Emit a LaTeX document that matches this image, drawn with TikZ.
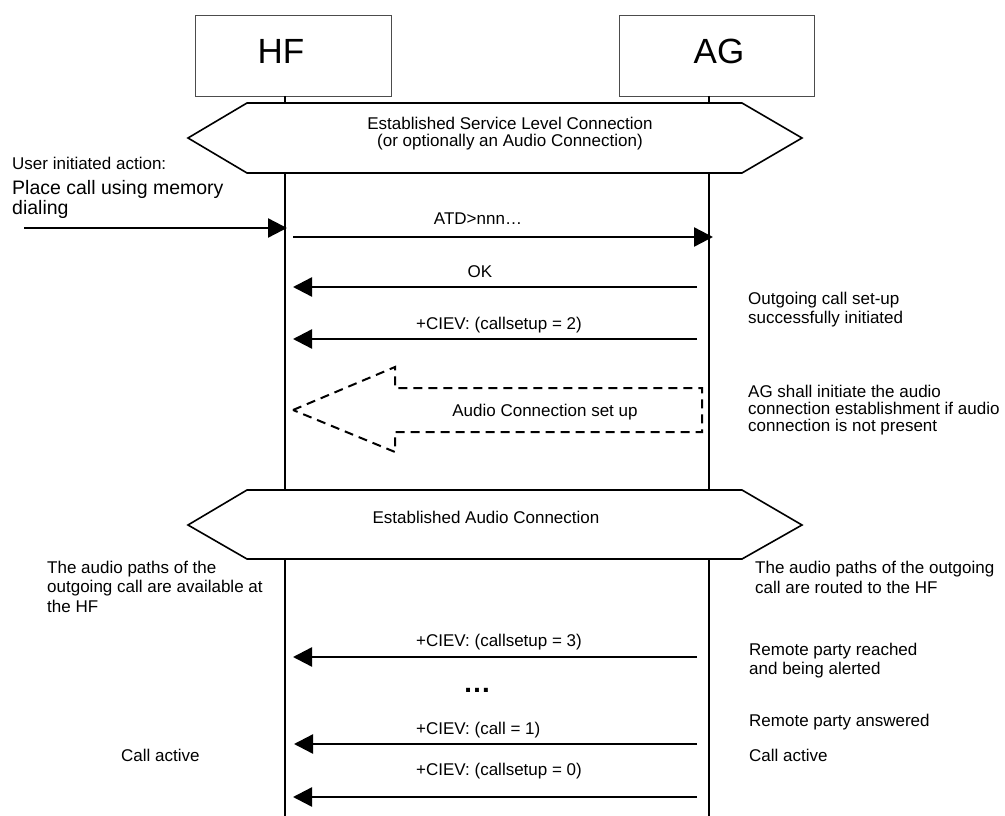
\documentclass[tikz,border=0pt]{standalone}
\usepackage{fontspec}
\setmainfont{Liberation Sans}
\usetikzlibrary{arrows.meta}
\begin{document}
\begin{tikzpicture}[x=1pt,y=-1pt,
  lifebox/.style={draw=black!70, line width=0.9pt, fill=white, minimum height=81pt,
    inner sep=0pt, anchor=north west},
  bigname/.style={font=\fontsize{35}{40}\selectfont, inner sep=0pt, anchor=base},
  lifeline/.style={line width=2.4pt},
  msg/.style={line width=2.4pt, -{Triangle[length=19pt,width=19pt]}},
  phase/.style={draw, line width=1.6pt, fill=white, line join=miter},
  setup/.style={draw, line width=2pt, dash pattern=on 9pt off 6pt, line join=miter},
  txt/.style={font=\fontsize{17}{19.5}\selectfont, inner sep=0pt},
  lbl/.style={txt, anchor=base},
  lblw/.style={txt, anchor=base west},
  note/.style={txt, align=left, anchor=base west},
]
\useasboundingbox (0,0) rectangle (1005,816);

% entity boxes
\node[lifebox, minimum width=196pt] (hfbox) at (195,15) {};
\node[lifebox, minimum width=195pt] (agbox) at (619,15) {};
\node[bigname] (hfname) at (281,64) {HF};
\node[bigname] (agname) at (719,64) {AG};

% lifelines
\coordinate (hftop) at (285,96);
\coordinate (hfbot) at (285,816);
\coordinate (agtop) at (709,96);
\coordinate (agbot) at (709,816);
\draw[lifeline] (hftop) -- (hfbot);
\draw[lifeline] (agtop) -- (agbot);

% service level connection phase (multi-line nodes sit on their last baseline)
\draw[phase] (188,138) -- (247,103) -- (742,103) -- (802,138) -- (742,173) -- (247,173) -- cycle;
\node[txt, align=center, anchor=base, font=\fontsize{17}{17.7}\selectfont] (slc) at (510,146.7)
  {Established Service Level Connection\\(or optionally an Audio Connection)};

% user action
\node[lblw] (useract) at (12,169) {User initiated action:};
\node[note, font=\fontsize{19.5}{20}\selectfont] (placecall) at (12,214) {Place call using memory\\dialing};
\coordinate (userin) at (24,228);
\coordinate (hfin) at (287,228);
\draw[msg] (userin) -- (hfin);

% ATD>nnn
\coordinate (atdA) at (293,237);
\coordinate (atdB) at (713,237);
\draw[msg] (atdA) -- (atdB);
\node[lbl] (atdlbl) at (478,224) {ATD>nnn…};

% OK
\coordinate (okA) at (697,287);
\coordinate (okB) at (293,287);
\draw[msg] (okA) -- (okB);
\node[lbl] (oklbl) at (480,277) {OK};

% callsetup = 2
\coordinate (cs2A) at (697,339);
\coordinate (cs2B) at (293,339);
\draw[msg] (cs2A) -- (cs2B);
\node[lblw] (cs2lbl) at (416,329) {+CIEV: (callsetup = 2)};
\node[note, font=\fontsize{17}{19.3}\selectfont] (cs2note) at (748,323.3) {Outgoing call set-up\\successfully initiated};

% audio connection set up
\draw[setup] (293,410) -- (395,367) -- (395,388) -- (702,388) -- (702,432) -- (395,432) -- (395,452) -- cycle;
\node[lbl] (acsetup) at (545,416) {Audio Connection set up};
\node[note, font=\fontsize{17}{17}\selectfont] (agnote) at (748,431)
  {AG shall initiate the audio\\connection establishment if audio\\connection is not present};

% audio connection phase
\draw[phase] (188,525) -- (247,490) -- (742,490) -- (802,525) -- (742,559) -- (247,559) -- cycle;
\node[lbl] (aclbl) at (486,523) {Established Audio Connection};
\node[note, font=\fontsize{17}{19.7}\selectfont] (hfpaths) at (47,612.4)
  {The audio paths of the\\outgoing call are available at\\the HF};
\node[note, font=\fontsize{17}{20}\selectfont] (agpaths) at (755,593)
  {The audio paths of the outgoing\\call are routed to the HF};

% callsetup = 3
\coordinate (cs3A) at (697,657);
\coordinate (cs3B) at (293,657);
\draw[msg] (cs3A) -- (cs3B);
\node[lblw] (cs3lbl) at (416,646) {+CIEV: (callsetup = 3)};
\node[note, font=\fontsize{17}{19}\selectfont] (cs3note) at (749,674) {Remote party reached\\and being alerted};

\node[anchor=base, inner sep=0pt, font=\fontsize{28}{30}\selectfont\bfseries] (gap) at (477,692) {…};

% call = 1
\coordinate (c1A) at (697,744);
\coordinate (c1B) at (294,744);
\draw[msg] (c1A) -- (c1B);
\node[lblw] (c1lbl) at (416,734) {+CIEV: (call = 1)};
\node[lblw] (answered) at (749,726) {Remote party answered};
\node[lblw] (agactive) at (749,761) {Call active};
\node[lblw] (hfactive) at (121,761) {Call active};

% callsetup = 0
\coordinate (cs0A) at (697,797);
\coordinate (cs0B) at (293,797);
\draw[msg] (cs0A) -- (cs0B);
\node[lblw] (cs0lbl) at (416,775) {+CIEV: (callsetup = 0)};
\end{tikzpicture}
\end{document}
